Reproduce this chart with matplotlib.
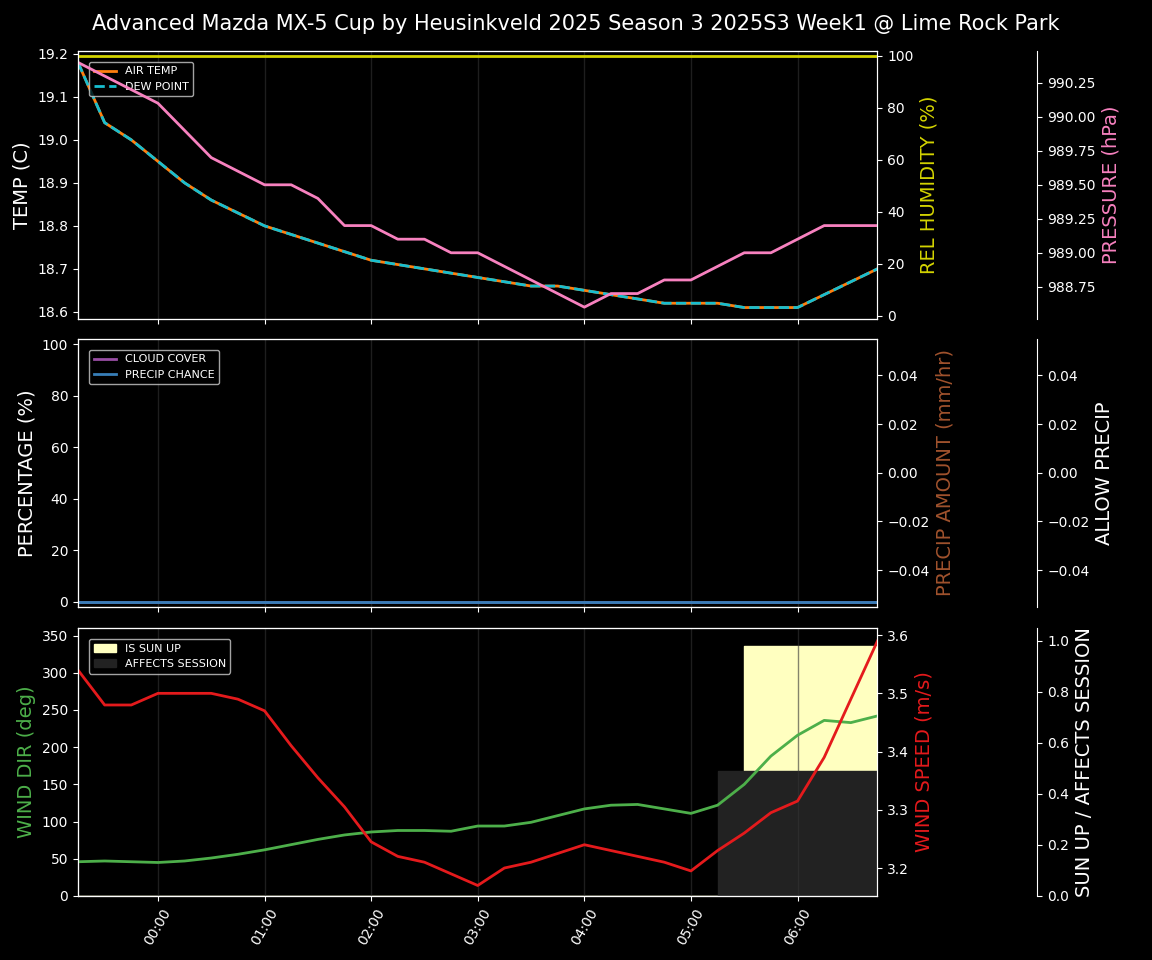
import matplotlib
matplotlib.use("Agg")
import matplotlib.pyplot as plt

# hours relative to 00:00, 15 min steps
hours = [-0.75 + 0.25 * i for i in range(31)]
hour_ticks = [0, 1, 2, 3, 4, 5, 6]
hour_labels = ["00:00", "01:00", "02:00", "03:00", "04:00", "05:00", "06:00"]

air_temp = [19.18, 19.04, 19.00, 18.95, 18.90, 18.86, 18.83, 18.80, 18.78, 18.76, 18.74,
            18.72, 18.71, 18.70, 18.69, 18.68, 18.67, 18.66, 18.66, 18.65, 18.64, 18.63,
            18.62, 18.62, 18.62, 18.61, 18.61, 18.61, 18.64, 18.67, 18.70]
dew_point = list(air_temp)
rel_humidity = [100] * 31
pressure = [990.4, 990.3, 990.2, 990.1, 989.9, 989.7, 989.6, 989.5, 989.5, 989.4, 989.2,
            989.2, 989.1, 989.1, 989.0, 989.0, 988.9, 988.8, 988.7, 988.6, 988.7, 988.7,
            988.8, 988.8, 988.9, 989.0, 989.0, 989.1, 989.2, 989.2, 989.2]
cloud_cover = [0] * 31
precip_chance = [0] * 31
precip_amount = [0] * 31
allow_precip = [0] * 31
wind_dir = [46, 47, 46, 45, 47, 51, 56, 62, 69, 76, 82, 86, 88, 88, 87, 94, 94, 99, 108,
            117, 122, 123, 117, 111, 122, 150, 188, 216, 236, 233, 242]
wind_speed = [3.54, 3.48, 3.48, 3.50, 3.50, 3.50, 3.49, 3.47, 3.41, 3.355, 3.305, 3.245,
              3.22, 3.21, 3.19, 3.17, 3.20, 3.21, 3.225, 3.24, 3.23, 3.22, 3.21, 3.195,
              3.23, 3.26, 3.295, 3.315, 3.39, 3.49, 3.59]
sun_up = [0] * 25 + [0.98] * 6
affects_session = [0] * 24 + [0.49] * 7

plt.style.use("dark_background")
fig = plt.figure(figsize=(11.52, 9.6), dpi=100)
fig.suptitle("Advanced Mazda MX-5 Cup by Heusinkveld 2025 Season 3 2025S3 Week1 @ Lime Rock Park",
             fontsize=15, y=0.985)

L, W, H = 0.0677, 0.694, 0.279
ax1 = fig.add_axes([L, 0.668, W, H])
ax2 = fig.add_axes([L, 0.368, W, H], sharex=ax1)
ax3 = fig.add_axes([L, 0.0667, W, H], sharex=ax1)

def third_axis(ax):
    t = ax.twinx()
    t.spines["right"].set_position(("axes", 1.2))
    return t

for ax in (ax1, ax2, ax3):
    for h in hour_ticks:
        ax.axvline(h, color="#333333", lw=1, alpha=0.6, zorder=0)

# top
ax1.plot(hours, air_temp, color="#ff7f0e", lw=2, label="AIR TEMP")
ax1.plot(hours, dew_point, color="#17becf", lw=2, ls="--", label="DEW POINT")
ax1.set_ylabel("TEMP (C)", fontsize=14)
ax1.set_ylim(18.584, 19.207)
ax1.legend(loc="upper left", fontsize=8, borderaxespad=1)
h1 = ax1.twinx()
h1.plot(hours, rel_humidity, color="#d4d400", lw=2)
h1.set_ylim(-1.2, 101.9)
h1.set_ylabel("REL HUMIDITY (%)", color="#d4d400", fontsize=14)
p1 = third_axis(ax1)
p1.plot(hours, pressure, color="#f781bf", lw=2)
p1.set_ylim(988.515, 990.485)
p1.set_yticks([988.75, 989.0, 989.25, 989.5, 989.75, 990.0, 990.25])
p1.set_ylabel("PRESSURE (hPa)", color="#f781bf", fontsize=14)
plt.setp(ax1.get_xticklabels(), visible=False)

# middle
ax2.plot(hours, cloud_cover, color="#984ea3", lw=2, label="CLOUD COVER")
ax2.plot(hours, precip_chance, color="#377eb8", lw=2, label="PRECIP CHANCE")
ax2.set_ylim(-2, 102)
ax2.set_ylabel("PERCENTAGE (%)", fontsize=14)
ax2.legend(loc="upper left", fontsize=8, borderaxespad=1)
pa = ax2.twinx()
pa.plot(hours, precip_amount, color="#a0522d", lw=0)
pa.set_ylim(-0.055, 0.055)
pa.set_ylabel("PRECIP AMOUNT (mm/hr)", color="#a0522d", fontsize=14)
ap = third_axis(ax2)
ap.plot(hours, allow_precip, color="white", lw=0)
ap.set_ylim(-0.055, 0.055)
ap.set_ylabel("ALLOW PRECIP", fontsize=14)
plt.setp(ax2.get_xticklabels(), visible=False)

# bottom
sa = third_axis(ax3)
sun_fill = sa.fill_between(hours, 0, sun_up, step="post", color="#ffffc0", label="IS SUN UP", zorder=1)
aff_fill = sa.fill_between(hours, 0, affects_session, step="post", color="#222222",
                           label="AFFECTS SESSION", zorder=2)
sa.set_ylim(0, 1.05)
sa.set_ylabel("SUN UP / AFFECTS SESSION", fontsize=14)
ax3.set_zorder(sa.get_zorder() + 1)
ax3.patch.set_visible(False)
ax3.plot(hours, wind_dir, color="#4daf4a", lw=2)
ax3.set_ylim(0, 360)
ax3.set_ylabel("WIND DIR (deg)", color="#4daf4a", fontsize=14)
ws = ax3.twinx()
ws.plot(hours, wind_speed, color="#e41a1c", lw=2)
ws.set_ylim(3.152, 3.612)
ws.set_ylabel("WIND SPEED (m/s)", color="#e41a1c", fontsize=14)
ws.set_zorder(ax3.get_zorder() + 1)
ws.patch.set_visible(False)
ws.legend([sun_fill, aff_fill], ["IS SUN UP", "AFFECTS SESSION"], loc="upper left",
          fontsize=8, borderaxespad=1)

ax3.set_xlim(-0.75, 6.75)
ax3.set_xticks(hour_ticks)
ax3.set_xticklabels(hour_labels, rotation=60)

fig.savefig("out.png", facecolor="black")
